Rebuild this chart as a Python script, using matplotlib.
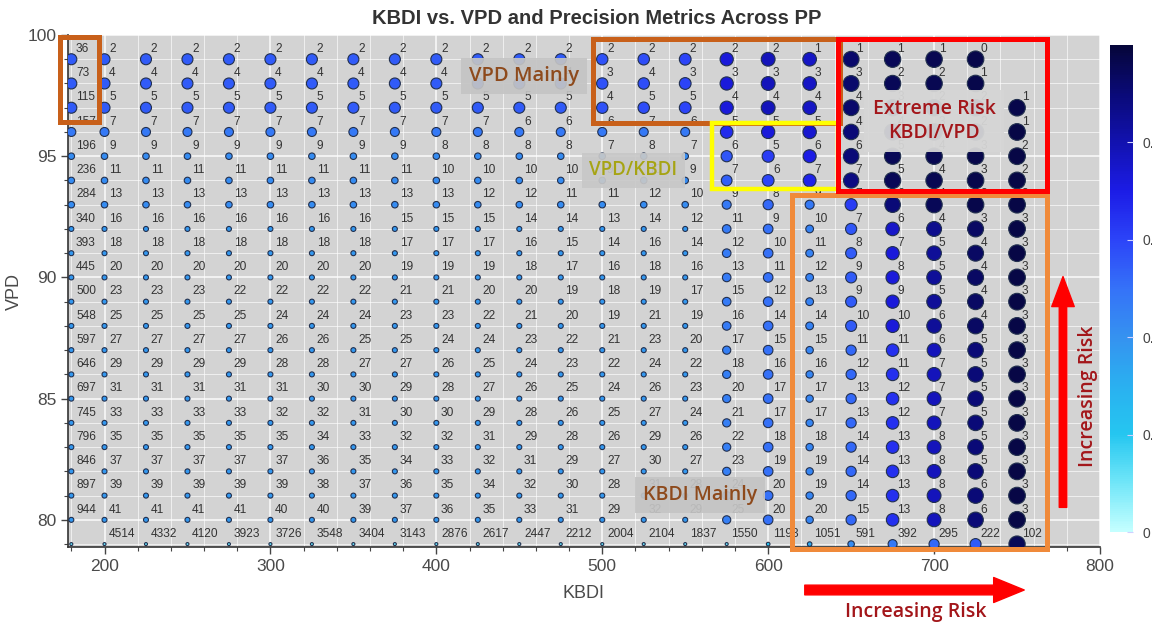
import numpy as np
import matplotlib
matplotlib.use("Agg")
import matplotlib.pyplot as plt
from matplotlib.colors import LinearSegmentedColormap, Normalize
from matplotlib.patches import Rectangle

plt.rcParams['font.family'] = ['Liberation Sans', 'DejaVu Sans']

# grid of KBDI thresholds (columns) and VPD thresholds (rows)
kbdi = [180, 200, 225, 250, 275, 300, 325, 350, 375, 400, 425, 450,
        475, 500, 525, 550, 575, 600, 625, 650, 675, 700, 725, 750]
vpd = [99, 98, 97, 96, 95, 94, 93, 92, 91, 90, 89, 88, 87, 86, 85, 84, 83, 82, 81, 80, 79]

# count shown next to each point (None = no label)
counts = [
    [36, 2, 2, 2, 2, 2, 2, 2, 2, 2, 2, 2, 2, 2, 2, 2, 2, 2, 1, 1, 1, 1, 0, None],
    [73, 4, 4, 4, 4, 4, 4, 4, 4, 4, 4, 4, 4, 3, 4, 3, 3, 3, 3, 3, 2, 2, 1, None],
    [115, 5, 5, 5, 5, 5, 5, 5, 5, 5, 5, 5, 5, 4, 5, 5, 4, 4, 4, 4, 3, 2, 2, 1],
    [157, 7, 7, 7, 7, 7, 7, 7, 7, 7, 7, 6, 6, 6, 7, 6, 5, 5, 5, 4, 4, 3, 2, 1],
    [196, 9, 9, 9, 9, 9, 9, 9, 9, 8, 8, 8, 8, 7, 8, 7, 6, 5, 6, 6, 5, 4, 3, 2],
    [236, 11, 11, 11, 11, 11, 11, 11, 11, 10, 10, 10, 10, 9, 10, 9, 7, 6, 7, 7, 5, 4, 3, 2],
    [284, 13, 13, 13, 13, 13, 13, 13, 13, 13, 12, 12, 11, 11, 12, 10, 9, 8, 9, 7, 6, 4, 3, 3],
    [340, 16, 16, 16, 16, 16, 16, 16, 15, 15, 15, 14, 14, 13, 14, 12, 11, 9, 10, 7, 6, 4, 3, 3],
    [393, 18, 18, 18, 18, 18, 18, 18, 17, 17, 17, 16, 15, 14, 16, 14, 12, 10, 11, 8, 7, 5, 4, 3],
    [445, 20, 20, 20, 20, 20, 20, 20, 19, 19, 19, 18, 17, 16, 18, 16, 13, 11, 12, 9, 8, 5, 4, 3],
    [500, 23, 23, 23, 22, 22, 22, 22, 21, 21, 20, 20, 19, 18, 19, 17, 15, 12, 13, 9, 9, 5, 4, 3],
    [548, 25, 25, 25, 25, 24, 24, 24, 23, 23, 22, 21, 20, 19, 21, 19, 16, 14, 14, 10, 10, 6, 4, 3],
    [597, 27, 27, 27, 27, 26, 26, 25, 25, 24, 24, 23, 22, 21, 23, 20, 17, 15, 15, 11, 11, 6, 5, 3],
    [646, 29, 29, 29, 29, 28, 28, 27, 27, 26, 25, 24, 23, 22, 24, 22, 18, 16, 16, 12, 11, 7, 5, 3],
    [697, 31, 31, 31, 31, 31, 30, 30, 29, 28, 27, 26, 25, 24, 26, 23, 20, 17, 17, 13, 12, 7, 5, 3],
    [745, 33, 33, 33, 33, 32, 32, 31, 30, 30, 29, 28, 26, 25, 27, 24, 21, 17, 17, 13, 12, 7, 5, 3],
    [796, 35, 35, 35, 35, 35, 34, 33, 32, 32, 31, 29, 28, 26, 29, 26, 22, 18, 18, 14, 13, 8, 5, 3],
    [846, 37, 37, 37, 37, 37, 36, 35, 34, 33, 32, 31, 29, 27, 30, 27, 23, 19, 19, 14, 13, 8, 5, 3],
    [897, 39, 39, 39, 39, 39, 38, 37, 36, 35, 34, 32, 30, 28, 31, 28, 24, 20, 19, 14, 13, 8, 6, 3],
    [944, 41, 41, 41, 41, 40, 40, 39, 37, 36, 35, 33, 31, 29, 32, 29, 25, 20, 20, 15, 13, 8, 6, 3],
    [None, 4514, 4332, 4120, 3923, 3726, 3548, 3404, 3143, 2876, 2617, 2447, 2212, 2004,
     2104, 1837, 1550, 1193, 1051, 591, 392, 295, 222, 102],
]

# precision (colour / size) (None = no point)
precision = [
    [.55, .55, .55, .55, .55, .55, .55, .55, .55, .55, .55, .55, .55, .57, .58, .60, .72, .78, .76, .92, .95, .96, .97, None],
    [.55, .55, .55, .55, .55, .55, .55, .55, .55, .55, .55, .55, .55, .57, .58, .60, .72, .78, .76, .92, .95, .96, .97, None],
    [.55, .55, .55, .55, .55, .55, .55, .55, .55, .55, .55, .55, .55, .57, .58, .60, .72, .78, .76, .92, .95, .96, .97, .97],
    [.48, .48, .48, .48, .48, .48, .48, .48, .48, .48, .48, .48, .48, .48, .48, .48, .66, .72, .74, .90, .95, .96, .97, .98],
    [.42, .42, .42, .42, .42, .42, .42, .42, .42, .42, .42, .42, .42, .42, .42, .42, .56, .62, .70, .90, .95, .96, .97, .98],
    [.42, .42, .42, .42, .42, .42, .42, .42, .42, .42, .42, .42, .42, .42, .42, .42, .54, .60, .68, .88, .95, .96, .97, .98],
    [.42, .42, .42, .42, .42, .42, .42, .42, .42, .42, .42, .42, .42, .42, .42, .42, .48, .52, .48, .62, .90, .95, .97, .98],
    [.38, .38, .38, .38, .38, .38, .38, .38, .38, .38, .38, .38, .38, .38, .38, .38, .47, .50, .45, .56, .75, .86, .93, .98],
    [.38, .38, .38, .38, .38, .38, .38, .38, .38, .38, .38, .38, .38, .38, .38, .38, .47, .50, .45, .55, .72, .84, .93, .98],
    [.38, .38, .38, .38, .38, .38, .38, .38, .38, .38, .38, .38, .38, .38, .38, .38, .47, .50, .45, .55, .72, .84, .93, .98],
    [.38, .38, .38, .38, .38, .38, .38, .38, .38, .38, .38, .38, .38, .38, .38, .38, .47, .50, .45, .55, .72, .84, .93, .98],
    [.38, .38, .38, .38, .38, .38, .38, .38, .38, .38, .38, .38, .38, .38, .38, .38, .47, .50, .45, .55, .72, .84, .93, .98],
    [.38, .38, .38, .38, .38, .38, .38, .38, .38, .38, .38, .38, .38, .38, .38, .38, .46, .50, .44, .52, .65, .78, .90, .98],
    [.38, .38, .38, .38, .38, .38, .38, .38, .38, .38, .38, .38, .38, .38, .38, .38, .46, .50, .44, .52, .65, .78, .90, .98],
    [.38, .38, .38, .38, .38, .38, .38, .38, .38, .38, .38, .38, .38, .38, .38, .38, .46, .50, .44, .52, .65, .78, .90, .98],
    [.38, .38, .38, .38, .38, .38, .38, .38, .38, .38, .38, .38, .38, .38, .38, .38, .46, .50, .44, .52, .65, .78, .90, .98],
    [.38, .38, .38, .38, .38, .38, .38, .38, .38, .38, .38, .38, .38, .38, .38, .38, .46, .50, .44, .52, .65, .78, .90, .98],
    [.38, .38, .38, .38, .38, .38, .38, .38, .38, .38, .38, .38, .38, .38, .38, .38, .46, .50, .44, .52, .65, .78, .90, .98],
    [.38, .38, .38, .38, .38, .38, .38, .38, .38, .38, .38, .38, .38, .38, .38, .38, .46, .50, .44, .52, .65, .78, .90, .98],
    [.38, .38, .38, .38, .38, .38, .38, .38, .38, .38, .38, .38, .38, .38, .38, .38, .46, .50, .44, .52, .65, .78, .90, .98],
    [.12, .12, .12, .12, .12, .12, .12, .12, .12, .12, .12, .12, .12, .12, .12, .12, .12, .20, .32, .42, .48, .52, .55, .95],
]

cbar_ticks = [0, 0.2, 0.4, 0.6, 0.8]
cbar_ticklabels = ['0', '0.2', '0.4', '0.6', '0.8']

cmap = LinearSegmentedColormap.from_list('prec', [
    (0.0, '#c4ffff'), (0.1, '#70e6f8'), (0.2, '#25c6f0'), (0.3, '#2ab0f0'),
    (0.4, '#3592f0'), (0.5, '#3572f8'), (0.6, '#2c44f8'), (0.7, '#1c1ce6'),
    (0.8, '#1212b0'), (0.9, '#0a0a78'), (1.0, '#06063a')])
norm = Normalize(0, 1)

W, H = 1152, 626
fig = plt.figure(figsize=(W / 100, H / 100), dpi=100)
ax = fig.add_axes([68 / W, 1 - 547 / H, (1100 - 68) / W, (547 - 35) / H])
ax.set_facecolor('#d3d3d3')

xs, ys, ps = [], [], []
for i, v in enumerate(vpd):
    for j, k in enumerate(kbdi):
        p = precision[i][j]
        if p is None:
            continue
        xs.append(k); ys.append(v); ps.append(p)
xs = np.array(xs); ys = np.array(ys); ps = np.array(ps)

# marker diameter in pixels grows with precision
diam = np.interp(ps, [0.0, 0.12, 0.38, 0.42, 0.48, 0.55, 0.65, 0.8, 1.0],
                 [2.0, 3.0, 5.0, 6.5, 9.0, 11.0, 12.5, 14.0, 17.0])
ax.scatter(xs, ys, s=(diam * 0.72) ** 2, c=ps, cmap=cmap, norm=norm,
           edgecolors='#22304e', linewidths=0.8, zorder=3)

for i, v in enumerate(vpd):
    for j, k in enumerate(kbdi):
        c = counts[i][j]
        if c is None:
            continue
        ax.annotate(str(c), (k, v), xytext=(3.4, 7.4), textcoords='offset points',
                    fontsize=8.6, color='#333333', ha='left', va='center', zorder=4)

ax.set_xlim(178, 800)
ax.set_ylim(78.88, 100)
ax.set_xticks([200, 300, 400, 500, 600, 700, 800])
ax.set_xticks(np.arange(180, 800, 20), minor=True)
ax.set_yticks([80, 85, 90, 95, 100])
ax.set_yticks(np.arange(79, 100, 1), minor=True)
ax.grid(which='major', color='white', lw=1.1, alpha=0.9, zorder=0)
ax.grid(which='minor', color='white', lw=0.7, alpha=0.65, zorder=0)
ax.set_axisbelow(True)
ax.tick_params(which='major', length=5, width=1, color='#444444', labelsize=12.5, labelcolor='#4a4a4a')
ax.tick_params(which='minor', length=3, width=0.8, color='#444444')
for s in ['top', 'right']:
    ax.spines[s].set_visible(False)
for s in ['left', 'bottom']:
    ax.spines[s].set_color('#333333')
    ax.spines[s].set_linewidth(1.2)
ax.set_xlabel('KBDI', fontsize=13, color='#4a4a4a', labelpad=8)
ax.set_ylabel('VPD', fontsize=13, color='#4a4a4a', labelpad=3)

fig.text(597 / W, 1 - 18 / H, 'KBDI vs. VPD and Precision Metrics Across PP',
         ha='center', va='center', fontsize=14.5, fontweight='bold', color='#333333')

# highlight boxes
def box(x0, x1, y0, y1, col, lw):
    ax.add_patch(Rectangle((x0, y0), x1 - x0, y1 - y0, fill=False, edgecolor=col,
                           lw=lw, clip_on=False, zorder=6))

box(172.9, 196.4, 96.4, 99.92, '#c8601a', 3.6)
box(494.6, 643.4, 96.36, 99.83, '#c8601a', 3.6)
box(614.5, 768.1, 78.8, 93.39, '#f08a3a', 3.6)
box(566.3, 642.2, 93.64, 96.36, '#ffff00', 3.2)
box(642.2, 768.1, 93.55, 99.83, '#ff0000', 3.6)

ann = dict(family=['Open Sans', 'DejaVu Sans'], fontweight='semibold', ha='center',
           va='center', zorder=7)
ax.text(453, 98.3, 'VPD Mainly', fontsize=14.5, color='#8e4a1c',
        bbox=dict(boxstyle='square,pad=0.4', fc='#c4c4c4', ec='none', alpha=0.92), **ann)
ax.text(518.7, 94.42, 'VPD/KBDI', fontsize=13.5, color='#a6a414',
        bbox=dict(boxstyle='square,pad=0.4', fc='#c8c8c8', ec='none', alpha=0.92), **ann)
ax.text(700, 96.45, 'Extreme Risk\nKBDI/VPD', fontsize=14, color='#a3161a', linespacing=1.3,
        bbox=dict(boxstyle='square,pad=0.45', fc='#d6d6d6', ec='none', alpha=0.95), **ann)
ax.text(559, 81.03, 'KBDI Mainly', fontsize=14, color='#8e4a1c',
        bbox=dict(boxstyle='square,pad=0.4', fc='#c4c4c4', ec='none', alpha=0.92), **ann)
ax.text(792.8, 85.1, 'Increasing Risk', fontsize=14, color='#a3161a', rotation=90, **ann)

ax.annotate('', xy=(777.7, 90.15), xytext=(777.7, 80.4), annotation_clip=False,
            arrowprops=dict(arrowstyle='simple,head_length=1.2,head_width=0.9,tail_width=0.3',
                            color='#ff0000', mutation_scale=18), zorder=7)
fig.add_artist(plt.Annotation('', xy=(1027, H - 590), xytext=(802, H - 590),
                              xycoords='figure pixels', textcoords='figure pixels',
                              arrowprops=dict(arrowstyle='simple,head_length=1.1,head_width=0.9,tail_width=0.35',
                                              color='#ff0000', mutation_scale=20)))
fig.text(916 / W, 1 - 612 / H, 'Increasing Risk', ha='center', va='center', fontsize=14,
         fontweight='semibold', color='#a3161a', family=['Open Sans', 'DejaVu Sans'])

# colour bar (right edge of the picture cuts its labels, as in the source)
cax = fig.add_axes([1110 / W, 1 - 532 / H, 23 / W, (532 - 45) / H])
cb = fig.colorbar(matplotlib.cm.ScalarMappable(norm=norm, cmap=cmap), cax=cax)
cb.outline.set_visible(False)
cb.set_ticks(cbar_ticks)
cb.set_ticklabels(cbar_ticklabels)
cax.tick_params(direction='in', length=4, color='#d0d0ff', labelsize=10, labelcolor='#444444', pad=7)

fig.savefig('out.png', dpi=100)
